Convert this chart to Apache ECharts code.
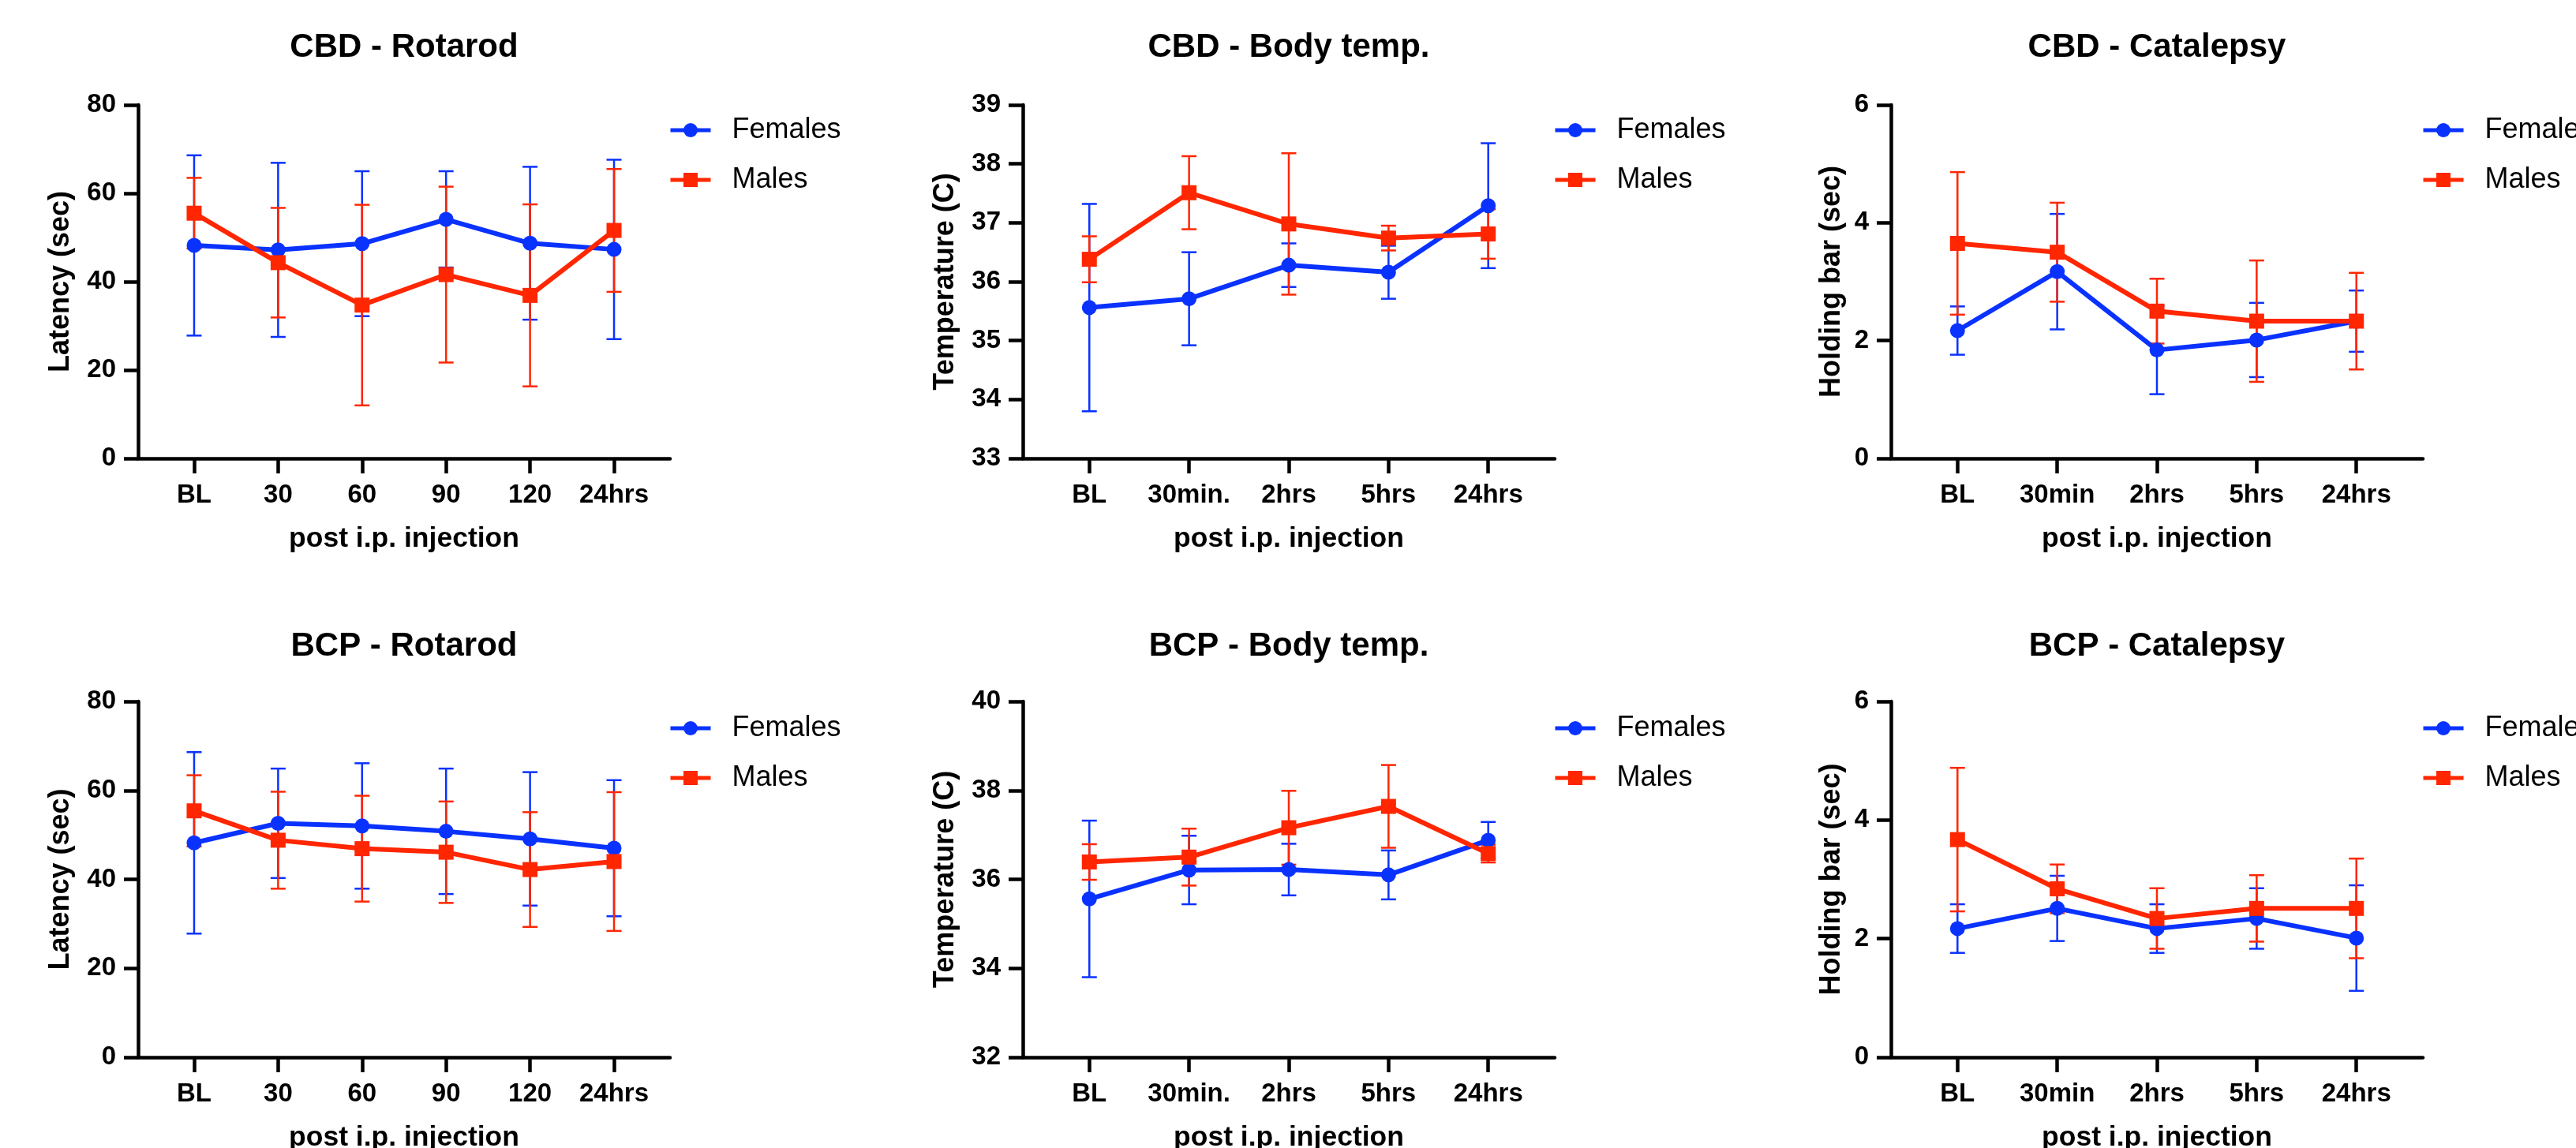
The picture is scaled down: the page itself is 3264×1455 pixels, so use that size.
<!DOCTYPE html>
<html><head><meta charset="utf-8">
<script src="https://cdn.jsdelivr.net/npm/echarts@6/dist/echarts.min.js"></script>
<style>html,body{margin:0;padding:0;background:#fff}#c{width:3264px;height:1455px}</style>
</head><body><div id="c"></div>
<script>
// ---------- DATA ----------
const rotarodCats = ['BL','30','60','90','120','24hrs'];
const tempCats = ['BL','30min.','2hrs','5hrs','24hrs'];
const catalepsyCats = ['BL','30min','2hrs','5hrs','24hrs'];
const seriesNames = ['Females','Males'];

const rotarodYTicks = [0, 20, 40, 60, 80];
const cbdTempYTicks = [33, 34, 35, 36, 37, 38, 39];
const bcpTempYTicks = [32, 34, 36, 38, 40];
const catalepsyYTicks = [0, 2, 4, 6];

const cbdRotFemMean = [48.2, 47.2, 48.6, 54.1, 48.7, 47.3];
const cbdRotFemErr  = [20.4, 19.7, 16.4, 10.9, 17.3, 20.3];
const cbdRotMalMean = [55.5, 44.3, 34.7, 41.6, 36.9, 51.6];
const cbdRotMalErr  = [8.0, 12.4, 22.7, 19.9, 20.6, 13.9];

const cbdTempFemMean = [35.56, 35.71, 36.28, 36.16, 37.29];
const cbdTempFemErr  = [1.76, 0.79, 0.37, 0.45, 1.06];
const cbdTempMalMean = [36.38, 37.51, 36.98, 36.74, 36.81];
const cbdTempMalErr  = [0.39, 0.62, 1.20, 0.21, 0.42];

const cbdCatFemMean = [2.17, 3.17, 1.84, 2.01, 2.33];
const cbdCatFemErr  = [0.41, 0.98, 0.75, 0.63, 0.52];
const cbdCatMalMean = [3.65, 3.50, 2.50, 2.33, 2.33];
const cbdCatMalErr  = [1.21, 0.84, 0.55, 1.03, 0.82];

const bcpRotFemMean = [48.2, 52.6, 52.0, 50.8, 49.1, 47.0];
const bcpRotFemErr  = [20.4, 12.3, 14.1, 14.1, 15.0, 15.3];
const bcpRotMalMean = [55.4, 48.8, 46.9, 46.1, 42.2, 44.0];
const bcpRotMalErr  = [8.0, 10.9, 11.9, 11.4, 12.9, 15.6];

const bcpTempFemMean = [35.56, 36.21, 36.22, 36.10, 36.88];
const bcpTempFemErr  = [1.76, 0.77, 0.58, 0.55, 0.41];
const bcpTempMalMean = [36.39, 36.50, 37.16, 37.64, 36.58];
const bcpTempMalErr  = [0.40, 0.64, 0.83, 0.93, 0.20];

const bcpCatFemMean = [2.17, 2.51, 2.17, 2.34, 2.01];
const bcpCatFemErr  = [0.41, 0.55, 0.41, 0.51, 0.89];
const bcpCatMalMean = [3.67, 2.84, 2.34, 2.51, 2.51];
const bcpCatMalErr  = [1.21, 0.41, 0.51, 0.56, 0.84];

const panels = [
  {title:'CBD - Rotarod', cats:rotarodCats, yName:'Latency (sec)', yTicks:rotarodYTicks,
   fem:[cbdRotFemMean, cbdRotFemErr], mal:[cbdRotMalMean, cbdRotMalErr]},
  {title:'CBD - Body temp.', cats:tempCats, yName:'Temperature (C)', yTicks:cbdTempYTicks,
   fem:[cbdTempFemMean, cbdTempFemErr], mal:[cbdTempMalMean, cbdTempMalErr]},
  {title:'CBD - Catalepsy', cats:catalepsyCats, yName:'Holding bar (sec)', yTicks:catalepsyYTicks,
   fem:[cbdCatFemMean, cbdCatFemErr], mal:[cbdCatMalMean, cbdCatMalErr]},
  {title:'BCP - Rotarod', cats:rotarodCats, yName:'Latency (sec)', yTicks:rotarodYTicks,
   fem:[bcpRotFemMean, bcpRotFemErr], mal:[bcpRotMalMean, bcpRotMalErr]},
  {title:'BCP - Body temp.', cats:tempCats, yName:'Temperature (C)', yTicks:bcpTempYTicks,
   fem:[bcpTempFemMean, bcpTempFemErr], mal:[bcpTempMalMean, bcpTempMalErr]},
  {title:'BCP - Catalepsy', cats:catalepsyCats, yName:'Holding bar (sec)', yTicks:catalepsyYTicks,
   fem:[bcpCatFemMean, bcpCatFemErr], mal:[bcpCatMalMean, bcpCatMalErr]}
];

// ---------- LAYOUT / STYLE ----------
const FONT = "'Liberation Sans', Arial, Helvetica, sans-serif";
const BLUE = '#0a32ff', RED = '#ff2600';
const gridLeft = [175, 1296, 2396];
const gridTop = [133, 889];
const gridH = [448, 451];
const GW = 674;
const titleTop = [39, 798];
const legendTop = [147, 905];
const yNameGap = [80, 80, 57];
const PAD = 0.667;

function errRender(params, api) {
  const x = api.value(0), lo = api.value(1), hi = api.value(2);
  const t = api.coord([x, hi]), b = api.coord([x, lo]);
  const c = api.visual('color');
  const hw = 9.5, st = {stroke: c, lineWidth: 2.5};
  return {type:'group', children:[
    {type:'line', shape:{x1:t[0], y1:t[1], x2:b[0], y2:b[1]}, style:st},
    {type:'line', shape:{x1:t[0]-hw, y1:t[1], x2:t[0]+hw, y2:t[1]}, style:st},
    {type:'line', shape:{x1:b[0]-hw, y1:b[1], x2:b[0]+hw, y2:b[1]}, style:st}
  ]};
}

const option = {animation:false, backgroundColor:'#fff', title:[], grid:[], xAxis:[], yAxis:[], legend:[], series:[]};
const axisLineStyle = {color:'#000', width:4.5};
const labelStyle = {fontFamily:FONT, fontSize:33, fontWeight:'bold', color:'#000'};

panels.forEach((p, k) => {
  const col = k % 3, row = Math.floor(k / 3);
  const left = gridLeft[col], top = gridTop[row], h = gridH[row];
  const n = p.cats.length;
  const idx = p.cats.map((_, i) => i);
  const yt = p.yTicks;
  option.grid.push({left:left, top:top, width:GW, height:h, containLabel:false, outerBoundsMode:'none'});
  option.title.push({text:p.title, left:left + GW/2, top:titleTop[row], textAlign:'center', padding:0,
    textStyle:{fontFamily:FONT, fontSize:42, fontWeight:'bold', color:'#000'}});
  option.xAxis.push({type:'value', gridIndex:k, min:-PAD, max:n - 1 + PAD,
    name:'post i.p. injection', nameLocation:'middle', nameGap:84, nameMoveOverlap:false,
    nameTextStyle:{fontFamily:FONT, fontSize:35.5, fontWeight:'bold', color:'#000'},
    axisLine:{show:true, onZero:false, lineStyle:axisLineStyle},
    axisTick:{show:true, customValues:idx, length:19, lineStyle:axisLineStyle},
    axisLabel:Object.assign({customValues:idx, margin:30, formatter:v => p.cats[Math.round(v)]}, labelStyle),
    splitLine:{show:false}});
  option.yAxis.push({type:'value', gridIndex:k, min:yt[0], max:yt[yt.length-1], interval:yt[1]-yt[0],
    name:p.yName, nameLocation:'middle', nameGap:yNameGap[col], nameMoveOverlap:false,
    nameTextStyle:{fontFamily:FONT, fontSize:36, fontWeight:'bold', color:'#000'},
    axisLine:{show:true, onZero:false, lineStyle:axisLineStyle},
    axisTick:{show:true, length:18, lineStyle:axisLineStyle},
    axisLabel:Object.assign({margin:28}, labelStyle),
    splitLine:{show:false}});
  option.legend.push({orient:'vertical', left:left + GW - 2, top:legendTop[row], padding:0,
    itemWidth:51, itemHeight:22.5, itemGap:27, selectedMode:false, data:seriesNames,
    lineStyle:{width:5},
    textStyle:{fontFamily:FONT, fontSize:36, color:'#000', padding:[0,0,0,22]}});
  [[p.fem, BLUE, 'circle', seriesNames[0]], [p.mal, RED, 'rect', seriesNames[1]]].forEach(([d, color, sym, name]) => {
    const mean = d[0], err = d[1];
    option.series.push({type:'custom', name:name + ' SD', xAxisIndex:k, yAxisIndex:k, silent:true,
      itemStyle:{color:color}, encode:{x:0, y:[1, 2]}, renderItem:errRender,
      data: mean.map((m, i) => [i, m - err[i], m + err[i]])});
    option.series.push({type:'line', name:name, xAxisIndex:k, yAxisIndex:k, silent:true,
      symbol:sym, symbolSize:19, showAllSymbol:true,
      lineStyle:{width:6, color:color}, itemStyle:{color:color},
      data: mean.map((m, i) => [i, m])});
  });
});

const chart = echarts.init(document.getElementById('c'), null, {renderer:'canvas'});
chart.setOption(option);
</script></body></html>
